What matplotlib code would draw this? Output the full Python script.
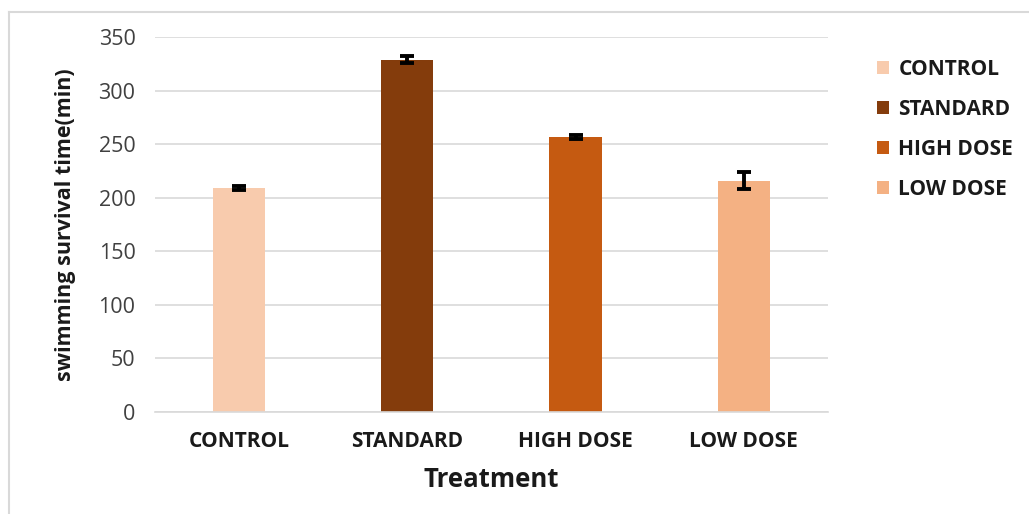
import matplotlib.pyplot as plt
from matplotlib.lines import Line2D

treatments = ['CONTROL', 'STANDARD', 'HIGH DOSE', 'LOW DOSE']
survival = [209, 329, 257, 216]
errors = [2, 3, 2, 8]
colors = ['#F8CBAD', '#843C0C', '#C55A11', '#F4B183']

plt.rcParams['font.family'] = ['Open Sans', 'DejaVu Sans']

fig = plt.figure(figsize=(10.29, 5.14), dpi=100)
ax = fig.add_axes([0.1506, 0.1984, 0.654, 0.7296])

x = range(len(treatments))
bars = ax.bar(x, survival, width=0.31, color=colors, label=treatments, zorder=2)
ax.errorbar(x, survival, yerr=errors, fmt='none', ecolor='black',
            elinewidth=2.8, capsize=5, capthick=2.8, zorder=3)

ax.set_xlim(-0.5, 3.5)
ax.set_ylim(0, 350)
ax.set_yticks(range(0, 351, 50))
ax.grid(axis='y', color='#D9D9D9', linewidth=1.2, zorder=0)
for s in ['top', 'right', 'left']:
    ax.spines[s].set_visible(False)
ax.spines['bottom'].set_color('#D9D9D9')
ax.spines['bottom'].set_linewidth(1.2)
ax.tick_params(length=0)
ax.tick_params(axis='y', labelsize=15.5, labelcolor='#404040', pad=14)
ax.set_xticks(list(x))
ax.set_xticklabels(treatments, fontsize=15, fontweight='bold', color='#1a1a1a')
ax.tick_params(axis='x', pad=14)

ax.set_xlabel('Treatment', fontsize=18.5, fontweight='bold', color='#1a1a1a', labelpad=10)
ax.set_ylabel('swimming survival time(min)', fontsize=15.5, fontweight='bold',
              color='#1a1a1a', labelpad=16)

leg = fig.legend(handles=bars, labels=treatments, loc='upper left',
                 bbox_to_anchor=(0.842, 0.905), frameon=False, borderpad=0,
                 prop={'weight': 'bold', 'size': 15},
                 handlelength=0.58, handleheight=0.58, handletextpad=0.45,
                 labelspacing=0.91, labelcolor='#1a1a1a')

# outer frame of the chart area
fig.add_artist(Line2D([0.0087, 0.0087], [0, 0.977], color='#D9D9D9', lw=1.5,
                      transform=fig.transFigure))
fig.add_artist(Line2D([0.0087, 1.0], [0.977, 0.977], color='#D9D9D9', lw=1.5,
                      transform=fig.transFigure))

fig.savefig('out.png', dpi=100)
